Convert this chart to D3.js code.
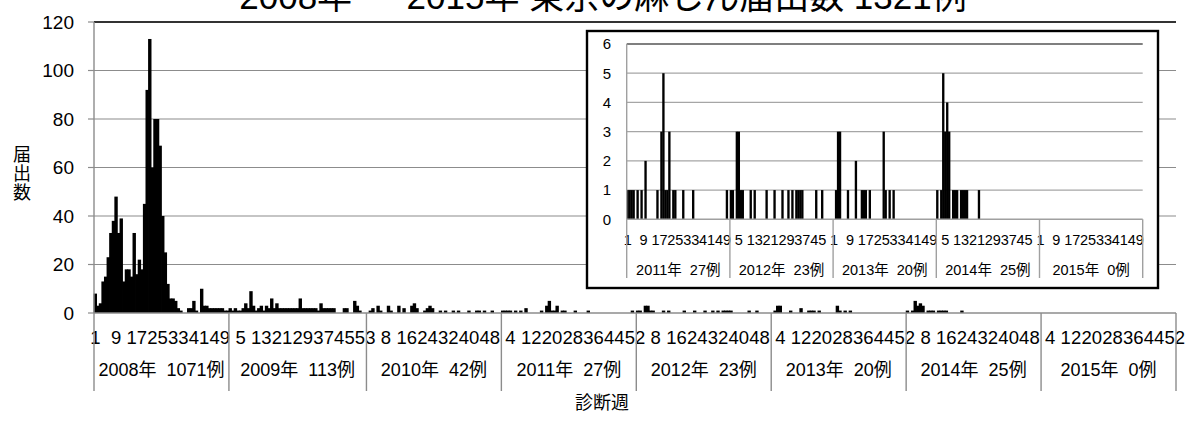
<!DOCTYPE html>
<html><head><meta charset="utf-8">
<script src="https://cdn.jsdelivr.net/npm/d3@7"></script>
<style>
body{margin:0;background:#fff;}
svg{display:block;}
text{font-family:"Liberation Sans","Noto Sans CJK JP",sans-serif;fill:#000;}
</style></head><body>
<svg id="c" width="1185" height="421"></svg>
<script>
// ---- data ----
const titleText = "2008年 ～ 2015年 東京の麻しん届出数 1321例";
const years = ["2008","2009","2010","2011","2012","2013","2014","2015"];
const yearTotals = [1071,113,42,27,23,20,25,0];
const weeks2008 = [8,3,4,13,15,23,33,38,48,33, 39,13,18,18,15,33,16,22,18,45, 92,113,60,80,80,69,40,25,12,6, 6,5,2,1,0,0,2,2,5,1, 0,10,3,3,2,2,2,2,2,2, 1,1];
const weeks2009 = [2,1,2,1,1,2,4,2,9,3, 1,2,3,1,3,2,6,2,4,2, 2,2,2,2,2,2,2,6,2,2, 2,2,2,2,1,4,2,2,2,2, 2,0,0,0,2,2,0,0,5,3, 1,0,0];
const weeks2010 = [0,1,2,0,3,1,0,0,3,1, 0,0,3,0,2,0,0,3,4,2, 0,0,1,2,3,2,0,0,1,0, 1,0,0,1,0,1,0,0,0,1, 0,0,1,1,0,1,0,0,1,0, 0,0];
const weeks2011 = [1,1,1,1,0,1,0,1,0,2, 0,0,0,0,0,1,0,3,5,1, 1,3,0,1,1,0,0,0,1,0, 0,0,0,1,0,0,0,0,0,0, 0,0,0,0,0,0,0,0,0,0, 1,0];
const weeks2012 = [1,1,0,3,3,1,1,0,0,0, 1,0,1,0,0,0,0,0,1,0, 0,0,1,0,0,0,1,0,0,1, 0,1,0,1,1,1,1,0,0,0, 0,0,0,1,0,0,1,0,0,0, 0,0];
const weeks2013 = [0,1,3,3,0,0,0,1,0,0, 0,2,0,0,1,1,1,0,1,0, 0,0,0,0,0,3,1,0,1,0, 1,0,0,0,0,0,0,0,0,0, 0,0,0,0,0,0,0,0,0,0, 0,0];
const weeks2014 = [1,0,1,5,3,4,3,0,1,1, 1,0,1,1,1,1,0,0,0,0, 0,1,0,0,0,0,0,0,0,0, 0,0,0,0,0,0,0,0,0,0, 0,0,0,0,0,0,0,0,0,0, 0,0];
const weeks2015 = [0,0,0,0,0,0,0,0,0,0, 0,0,0,0,0,0,0,0,0,0, 0,0,0,0,0,0,0,0,0,0, 0,0,0,0,0,0,0,0,0,0, 0,0,0,0,0,0,0,0,0,0, 0,0];
const mainYTicks = [0,20,40,60,80,100,120];
const insetYears = ["2011","2012","2013","2014","2015"];
const insetYTicks = [0,1,2,3,4,5,6];
const yAxisTitle = "届出数";
const xAxisTitle = "診断週";
const labelEvery = 8;

// ---- build tables ----
const weeksByYear = {"2008":weeks2008,"2009":weeks2009,"2010":weeks2010,"2011":weeks2011,
  "2012":weeks2012,"2013":weeks2013,"2014":weeks2014,"2015":weeks2015};
function buildRows(yrs){
  const rows=[];
  yrs.forEach(y=>{ weeksByYear[y].forEach((v,i)=>rows.push({key:y+"-"+(i+1),year:y,week:i+1,value:v})); });
  return rows;
}
const totalOf = y => yearTotals[years.indexOf(y)];

const svg = d3.select("#c");

function drawChart(g, cfg){
  const rows = buildRows(cfg.years);
  const x = d3.scaleBand().domain(rows.map(d=>d.key)).range([cfg.left,cfg.right]).paddingInner(cfg.pad).paddingOuter(cfg.pad/2);
  const y = d3.scaleLinear().domain([0,cfg.max]).range([cfg.bottom,cfg.top]);
  const step = x.step();
  // gridlines
  g.selectAll("line.grid").data(cfg.ticks.filter(t=>t>0)).enter().append("line")
    .attr("x1",cfg.left).attr("x2",cfg.right).attr("y1",d=>y(d)).attr("y2",d=>y(d))
    .attr("stroke",d=>d===cfg.max?cfg.topColor:cfg.gridColor).attr("stroke-width",d=>d===cfg.max?cfg.topWidth:1.2);
  // bars
  const extra = cfg.barExtra;
  g.selectAll("rect.bar").data(rows.filter(d=>d.value>0)).enter().append("rect")
    .attr("x",d=>x(d.key)-extra/2).attr("width",x.bandwidth()+extra)
    .attr("y",d=>y(d.value)).attr("height",d=>y(0)-y(d.value)).attr("fill","#000");
  // axes lines
  g.append("line").attr("x1",cfg.left).attr("x2",cfg.left).attr("y1",cfg.top).attr("y2",cfg.bottom).attr("stroke",cfg.axisColor).attr("stroke-width",1.4);
  g.append("line").attr("x1",cfg.left).attr("x2",cfg.right).attr("y1",cfg.bottom).attr("y2",cfg.bottom).attr("stroke",cfg.axisColor).attr("stroke-width",1.4);
  // y ticks
  if(cfg.tickLen>0){
    g.selectAll("line.yt").data(cfg.ticks).enter().append("line")
      .attr("x1",cfg.left-cfg.tickLen).attr("x2",cfg.left).attr("y1",d=>y(d)).attr("y2",d=>y(d))
      .attr("stroke",cfg.axisColor).attr("stroke-width",1.2);
  }
  g.selectAll("text.yl").data(cfg.ticks).enter().append("text")
    .attr("x",cfg.yLabelX).attr("y",d=>y(d)).attr("dy","0.36em").attr("text-anchor","end")
    .style("font-size",cfg.yFont+"px").text(d=>d);
  // week labels
  g.selectAll("text.wl").data(rows.filter((d,i)=>i%labelEvery===0)).enter().append("text")
    .attr("x",d=>x(d.key)+x.bandwidth()/2).attr("y",cfg.weekY).attr("dy","0.36em")
    .attr("text-anchor","middle").style("font-size",cfg.xFont+"px").text(d=>d.week);
  // year separators & labels
  const spans = cfg.years.map(yr=>{
    const r = rows.filter(d=>d.year===yr);
    return {year:yr, x0:x(r[0].key)-x.paddingInner()*step/2, x1:x(r[r.length-1].key)+x.bandwidth()+x.paddingInner()*step/2};
  });
  spans[0].x0 = cfg.left; spans[spans.length-1].x1 = cfg.right;
  const bounds = [spans[0].x0].concat(spans.map(s=>s.x1));
  g.selectAll("line.sep").data(bounds).enter().append("line")
    .attr("x1",d=>d).attr("x2",d=>d).attr("y1",cfg.bottom).attr("y2",cfg.sepBottom)
    .attr("stroke",cfg.axisColor).attr("stroke-width",1.4);
  g.selectAll("text.yr").data(spans).enter().append("text")
    .attr("x",d=>(d.x0+d.x1)/2).attr("y",cfg.yearY).attr("dy","0.36em")
    .attr("text-anchor","middle").style("font-size",cfg.yearFont+"px").style("white-space","pre")
    .text(d=>d.year+"年  "+totalOf(d.year)+"例");
}

// title (partly above the top edge, as in the reference)
svg.append("text").attr("x",603).attr("y",9).attr("text-anchor","middle")
  .style("font-size","35px").text(titleText);

// main chart
drawChart(svg.append("g"), {years:years,left:94,right:1176,top:22,bottom:313,max:120,ticks:mainYTicks,pad:0,barExtra:0.8,
  gridColor:"#8c8c8c",topColor:"#333",topWidth:2.2,axisColor:"#8c8c8c",tickLen:6,yLabelX:74,yFont:19,xFont:18.5,
  weekY:337,sepBottom:391,yearY:370,yearFont:18});

// axis titles
const yt = svg.append("text").attr("text-anchor","middle").style("font-size","18px");
yAxisTitle.split("").forEach((ch,i)=>yt.append("tspan").attr("x",22).attr("y",161+i*19).text(ch));
svg.append("text").attr("x",602).attr("y",409).attr("text-anchor","middle").style("font-size","18px").text(xAxisTitle);

// inset
const ig = svg.append("g");
ig.append("rect").attr("x",587).attr("y",31).attr("width",571).attr("height",257).attr("fill","#fff").attr("stroke","#000").attr("stroke-width",2.4);
drawChart(ig, {years:insetYears,left:626.7,right:1142.7,top:44,bottom:219.3,max:6,ticks:insetYTicks,pad:0.12,barExtra:0.6,
  gridColor:"#a6a6a6",topColor:"#555",topWidth:1.6,axisColor:"#a0a0a0",tickLen:0,yLabelX:611,yFont:15,xFont:14.5,
  weekY:240,sepBottom:278,yearY:270,yearFont:14.5});
</script>
</body></html>
